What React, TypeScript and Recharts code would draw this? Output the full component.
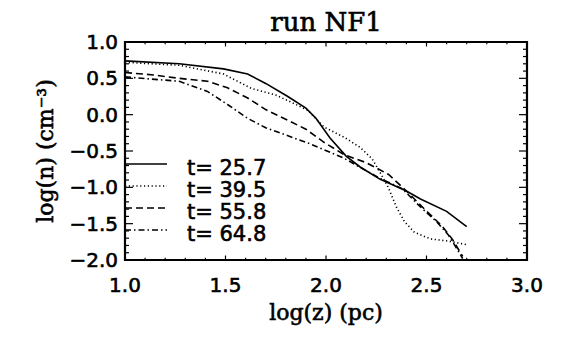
import { LineChart, Line, XAxis, YAxis, ReferenceArea } from 'recharts';

// log(z) / log(n) profiles
const z257 = [1.0, 1.27, 1.49, 1.61, 1.7, 1.81, 1.9, 1.95, 2.02, 2.1, 2.17, 2.27, 2.4, 2.47, 2.6, 2.7];
const n257 = [0.74, 0.7, 0.63, 0.56, 0.43, 0.25, 0.09, -0.05, -0.32, -0.57, -0.72, -0.89, -1.05, -1.16, -1.33, -1.54];

const z395 = [1.0, 1.27, 1.49, 1.63, 1.75, 1.82, 1.91, 1.99, 2.09, 2.17, 2.23, 2.27, 2.31, 2.35, 2.39, 2.44, 2.52, 2.61, 2.7];
const n395 = [0.72, 0.68, 0.56, 0.36, 0.27, 0.18, 0.06, -0.17, -0.31, -0.45, -0.61, -0.8, -1.0, -1.27, -1.47, -1.62, -1.71, -1.74, -1.79];

const z558 = [1.0, 1.13, 1.27, 1.41, 1.51, 1.61, 1.7, 1.82, 1.9, 1.99, 2.09, 2.2, 2.31, 2.4, 2.49, 2.58, 2.63, 2.68];
const n558 = [0.58, 0.55, 0.5, 0.46, 0.37, 0.23, 0.07, -0.09, -0.2, -0.38, -0.55, -0.66, -0.82, -1.05, -1.3, -1.54, -1.72, -1.95];

const z648 = [1.0, 1.13, 1.27, 1.41, 1.51, 1.61, 1.7, 1.82, 1.92, 2.09, 2.27, 2.38, 2.47, 2.55, 2.61, 2.65, 2.68];
const n648 = [0.52, 0.49, 0.46, 0.32, 0.14, -0.05, -0.18, -0.3, -0.4, -0.6, -0.88, -1.02, -1.27, -1.47, -1.66, -1.84, -1.98];

const labels = ['t= 25.7', 't= 39.5', 't= 55.8', 't= 64.8'];
const dashes = [undefined, '1.2 2.6', '7 4', '6 3 1.5 3'];

const xTicks = [1.0, 1.1, 1.2, 1.3, 1.4, 1.5, 1.6, 1.7, 1.8, 1.9, 2.0, 2.1, 2.2, 2.3, 2.4, 2.5, 2.6, 2.7, 2.8, 2.9, 3.0];
const yTicks = [-2.0, -1.9, -1.8, -1.7, -1.6, -1.5, -1.4, -1.3, -1.2, -1.1, -1.0, -0.9, -0.8, -0.7, -0.6, -0.5, -0.4, -0.3, -0.2, -0.1,
  0.0, 0.1, 0.2, 0.3, 0.4, 0.5, 0.6, 0.7, 0.8, 0.9, 1.0];

const toPoints = (xs: number[], ys: number[]) => xs.map((x, i) => ({ x, y: ys[i] }));
const series = [toPoints(z257, n257), toPoints(z395, n395), toPoints(z558, n558), toPoints(z648, n648)];

const W = 566;
const H = 340;
const margin = { top: 42, right: 39, bottom: 0, left: 0 };
const plotTop = margin.top;
const plotRight = W - margin.right;
const sans = 'DejaVu Sans';
const serif = 'DejaVu Serif';
// thicken glyphs a bit, the original uses a heavy vector font
const heavy = { stroke: '#000', strokeWidth: 0.6 };

const isMajor = (v: number) => Math.abs(v * 2 - Math.round(v * 2)) < 1e-6;
const fmt = (v: number) => (v < -1e-9 ? '\u2212' : '') + Math.abs(v).toFixed(1);

function XTick({ x, y, payload }: any) {
  const v = payload.value;
  const len = isMajor(v) ? 4.5 : 2.2;
  return (
    <g>
      <line x1={x} x2={x} y1={y} y2={y - len} stroke="#000" strokeWidth={1.2} />
      <line x1={x} x2={x} y1={plotTop} y2={plotTop + len} stroke="#000" strokeWidth={1.2} />
      {isMajor(v) && (
        <text x={x} y={y + 25} textAnchor="middle" dominantBaseline="central" fontFamily={sans} fontSize={20} fill="#000" {...heavy}>
          {fmt(v)}
        </text>
      )}
    </g>
  );
}

function YTick({ x, y, payload }: any) {
  const v = payload.value;
  const len = isMajor(v) ? 8 : 4;
  return (
    <g>
      <line x1={x} x2={x + len} y1={y} y2={y} stroke="#000" strokeWidth={1.2} />
      <line x1={plotRight} x2={plotRight - len} y1={y} y2={y} stroke="#000" strokeWidth={1.2} />
      {isMajor(v) && (
        <text x={x - 7} y={y} textAnchor="end" dominantBaseline="central" fontFamily={sans} fontSize={20} fill="#000" {...heavy}>
          {fmt(v)}
        </text>
      )}
    </g>
  );
}

function XTitle({ viewBox }: any) {
  return (
    <text x={viewBox.x + viewBox.width / 2} y={viewBox.y + 52} textAnchor="middle" dominantBaseline="central"
      fontFamily={serif} fontSize={22} fill="#000" {...heavy}>
      log(z) (pc)
    </text>
  );
}

function YTitle({ viewBox }: any) {
  const cx = viewBox.x + 45;
  const cy = viewBox.y + viewBox.height / 2;
  return (
    <text x={cx} y={cy} transform={`rotate(-90 ${cx} ${cy})`} textAnchor="middle" dominantBaseline="central"
      fontFamily={serif} fontSize={22} fill="#000" {...heavy}>
      log(n) (cm{'\u207B\u00B3'})
    </text>
  );
}

export default function App() {
  return (
    <div style={{ position: 'absolute', left: 0, top: 0, width: W, height: H, background: '#fff' }}>
      <LineChart width={W} height={H} margin={margin}>
        <XAxis dataKey="x" type="number" domain={[1, 3]} ticks={xTicks} interval={0} allowDataOverflow
          axisLine={false} tickLine={false} tickSize={0} tickMargin={0} tick={<XTick />} height={80}
          label={{ content: <XTitle /> }} />
        <YAxis dataKey="y" type="number" domain={[-2, 1]} ticks={yTicks} interval={0} allowDataOverflow
          axisLine={false} tickLine={false} tickSize={0} tickMargin={0} tick={<YTick />} width={125}
          label={{ content: <YTitle /> }} />
        <ReferenceArea x1={1} x2={3} y1={-2} y2={1} fill="none" stroke="#000" strokeWidth={2.2} />
        {series.map((d, i) => (
          <Line key={labels[i]} data={d} dataKey="y" type="linear" stroke="#000" strokeWidth={1.6}
            strokeDasharray={dashes[i]} dot={false} activeDot={false} isAnimationActive={false} />
        ))}
      </LineChart>
      <svg width={W} height={H} style={{ position: 'absolute', left: 0, top: 0, pointerEvents: 'none' }}>
        <text x={326} y={22} textAnchor="middle" dominantBaseline="central" fontFamily={serif} fontSize={26} fill="#000" {...heavy}>
          run NF1
        </text>
        {labels.map((t, i) => (
          <g key={t}>
            <line x1={125} x2={167} y1={164 + 22 * i} y2={164 + 22 * i} stroke="#000" strokeWidth={1.4}
              strokeDasharray={dashes[i]} />
            <text x={187} y={168 + 22 * i} dominantBaseline="central" fontFamily={sans} fontSize={21} fill="#000" {...heavy}>
              {t}
            </text>
          </g>
        ))}
      </svg>
    </div>
  );
}
